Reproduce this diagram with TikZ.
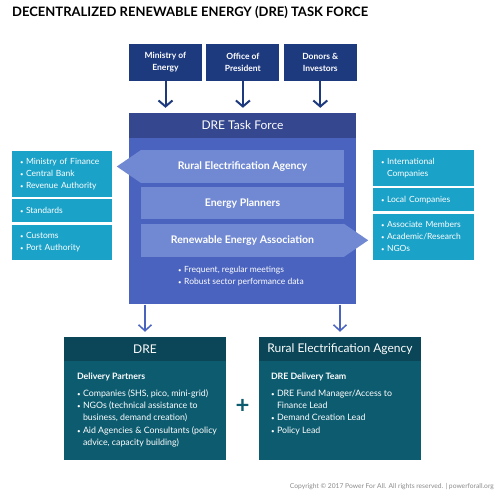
\documentclass[tikz,border=0pt]{standalone}
\usepackage{fontspec}
\setmainfont{Lato}
\usetikzlibrary{positioning, arrows.meta, calc}

\definecolor{topnavy}{HTML}{1E3A7E}
\definecolor{tfdark}{HTML}{34478F}
\definecolor{tfblue}{HTML}{4A63BF}
\definecolor{barblue}{HTML}{7189D2}
\definecolor{sidecyan}{HTML}{1BA2C8}
\definecolor{tealbody}{HTML}{0D5B6F}
\definecolor{tealdark}{HTML}{0A4657}
\definecolor{copygray}{HTML}{8A8A8A}

% kleine Aufzaehlungspunkte
\newcommand{\bl}{\makebox[6pt][l]{\scalebox{0.7}{•}}}
\newcommand{\ind}{\hspace*{6pt}}

\begin{document}
\begin{tikzpicture}[
      x=1pt, y=-1pt,
      font=\fontsize{8.5}{12}\selectfont,
      % Kaesten oben
      topbox/.style={rectangle, fill=topnavy, text=white, font=\fontsize{8.5}{12}\selectfont\bfseries,
        align=center, minimum width=73pt, minimum height=37pt, inner sep=0pt},
      % Task Force
      tfhead/.style={rectangle, fill=tfdark, text=white, font=\fontsize{12}{14}\selectfont,
        minimum width=227pt, minimum height=25pt, inner sep=0pt},
      tfbody/.style={rectangle, fill=tfblue, minimum width=227pt, minimum height=166pt, inner sep=0pt},
      bar/.style={rectangle, fill=barblue, text=white, font=\fontsize{10.5}{12}\selectfont\bfseries,
        minimum width=203pt, minimum height=33pt, inner sep=0pt},
      % Seitenkaesten
      sidebox/.style={rectangle, fill=sidecyan, text=white, align=left, inner xsep=8pt, inner ysep=0pt},
      % Kaesten unten
      bothead/.style={rectangle, fill=tealdark, text=white, font=\fontsize{12}{14}\selectfont,
        minimum width=162pt, minimum height=24pt, inner sep=0pt},
      botbody/.style={rectangle, fill=tealbody, minimum width=162pt, minimum height=99pt, inner sep=0pt},
      bottext/.style={text=white, align=left, inner sep=0pt},
      % Pfeile
      navyline/.style={draw=topnavy, line width=2pt, -{Straight Barb[length=6pt, width=14pt]}, shorten >=5pt},
      blueline/.style={draw=tfblue, line width=1.5pt, -{Straight Barb[length=6pt, width=13pt]}, shorten >=5pt}
    ]
    \useasboundingbox (0,0) rectangle (500,495);

    % --- Titel ---
    \node [anchor=west, inner sep=0pt, font=\fontsize{13}{16}\selectfont\bfseries] (title) at (12,12)
      {DECENTRALIZED RENEWABLE ENERGY (DRE) TASK FORCE};

    % --- oben ---
    \node [topbox] (energy) at (165.5,62.5) {Ministry of\\Energy};
    \node [topbox, right=4pt of energy] (president) {Office of\\President};
    \node [topbox, right=4pt of president] (donors) {Donors \&\\Investors};

    % --- Task Force ---
    \node [tfhead] (tfhead) at (242.5,125.5) {DRE Task Force};
    \node [tfbody, below=0pt of tfhead] (tf) {};

    \node [bar] (rea) at (242.5,166.5) {Rural Electrification Agency};
    \node [bar, minimum height=32pt, below=4pt of rea] (planners) {Energy Planners};
    \node [bar, below=4pt of planners] (rena) {Renewable Energy Association};
    \fill [barblue] ($(rea.north west)+(0.5,0)$) -- ($(rea.west)+(-24,0)$) -- ($(rea.south west)+(0.5,0)$) -- cycle;
    \fill [barblue] ($(rena.north east)+(-0.5,0)$) -- ($(rena.east)+(24,0)$) -- ($(rena.south east)+(-0.5,0)$) -- cycle;

    \node [bottext, anchor=north west] (notes) at (178,266)
      {\bl Frequent, regular meetings\\\bl Robust sector performance data};

    % --- links ---
    \node [sidebox, text width=84pt, minimum height=46pt] (finance) at (62,174)
      {\bl Ministry of Finance\\\bl Central Bank\\\bl Revenue Authority};
    \node [sidebox, text width=84pt, minimum height=23pt, below=2pt of finance] (standards) {\bl Standards};
    \node [sidebox, text width=84pt, minimum height=35pt, below=2pt of standards] (customs)
      {\bl Customs\\\bl Port Authority};

    % --- rechts ---
    \node [sidebox, text width=85pt, minimum height=36pt] (intl) at (423.5,168)
      {\bl International\\\ind Companies};
    \node [sidebox, text width=85pt, minimum height=23pt, below=2pt of intl] (local) {\bl Local Companies};
    \node [sidebox, text width=85pt, minimum height=46pt, below=2pt of local] (assoc)
      {\bl Associate Members\\\bl Academic/Research\\\bl NGOs};

    % --- unten ---
    \node [bothead] (drehead) at (145,349) {DRE};
    \node [botbody, below=0pt of drehead] (drebody) {};
    \node [bothead] (reahead) at (340,349) {Rural Electrification Agency};
    \node [botbody, below=0pt of reahead] (reabody) {};

    \node [bottext, font=\fontsize{8.8}{12.3}\selectfont, below right=12pt and 13pt of drebody.north west] (partners)
      {\textbf{Delivery Partners}\\[4pt]
       \bl Companies (SHS, pico, mini-grid)\\
       \bl NGOs (technical assistance to\\
       \ind business, demand creation)\\
       \bl Aid Agencies \& Consultants (policy\\
       \ind advice, capacity building)};
    \node [bottext, font=\fontsize{8.8}{12.3}\selectfont, below right=12pt and 12pt of reabody.north west] (team)
      {\textbf{DRE Delivery Team}\\[4pt]
       \bl DRE Fund Manager/Access to\\
       \ind Finance Lead\\
       \bl Demand Creation Lead\\
       \bl Policy Lead};

    \node [text=tealbody, inner sep=0pt, font=\fontsize{24}{24}\selectfont\bfseries] (plus) at (242.5,406.5) {+};

    \node [anchor=east, inner sep=0pt, text=copygray, font=\fontsize{6.7}{8}\selectfont] (copy) at (494,487)
      {Copyright © 2017 Power For All. All rights reserved. | powerforall.org};

    % --- Pfeile ---
    \draw [navyline] (energy) -- (energy |- tfhead.north);
    \draw [navyline] (president) -- (president |- tfhead.north);
    \draw [navyline] (donors) -- (donors |- tfhead.north);
    \draw [blueline] (drehead |- tf.south) -- (drehead.north);
    \draw [blueline] (reahead |- tf.south) -- (reahead.north);

\end{tikzpicture}
\end{document}
